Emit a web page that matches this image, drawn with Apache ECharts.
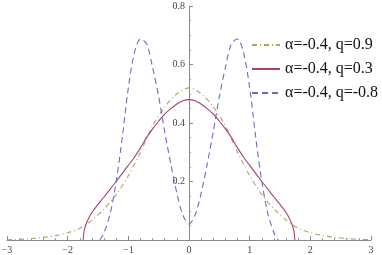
<!DOCTYPE html>
<html>
<head>
<meta charset="utf-8">
<script src="https://cdn.jsdelivr.net/npm/echarts@6/dist/echarts.min.js"></script>
<style>
html,body{margin:0;padding:0;background:#fff;}
#c{width:382px;height:255px;}
</style>
</head>
<body>
<div id="c"></div>
<script>
// Series names
const seriesNames = ['α=-0.4, q=0.9', 'α=-0.4, q=0.3', 'α=-0.4, q=-0.8'];

// q = 0.9 (dot-dashed, olive)
const olive_x = [-3.0,-2.8,-2.6,-2.4,-2.2,-2.0,-1.8,-1.6,-1.4,-1.2,-1.0,-0.8,-0.6,-0.4,-0.2,0,0.2,0.4,0.6,0.8,1.0,1.2,1.4,1.6,1.8,2.0,2.2,2.4,2.6,2.8,3.0];
const olive_y = [0.001,0.002,0.005,0.009,0.015,0.025,0.04,0.068,0.106,0.155,0.22,0.30,0.39,0.455,0.50,0.52,0.50,0.455,0.39,0.30,0.22,0.155,0.106,0.068,0.04,0.025,0.015,0.009,0.005,0.002,0.001];

// q = 0.3 (solid, crimson)
const crim_x = [-1.745,-1.73,-1.7,-1.65,-1.6,-1.5,-1.4,-1.3,-1.2,-1.1,-1.0,-0.9,-0.8,-0.7,-0.6,-0.5,-0.4,-0.3,-0.2,-0.1,0,0.1,0.2,0.3,0.4,0.5,0.6,0.7,0.8,0.9,1.0,1.1,1.2,1.3,1.4,1.5,1.6,1.65,1.7,1.73,1.745];
const crim_y = [0,0.03,0.052,0.076,0.094,0.122,0.147,0.174,0.2,0.228,0.255,0.283,0.315,0.35,0.38,0.406,0.43,0.449,0.465,0.476,0.48,0.476,0.465,0.449,0.43,0.406,0.38,0.35,0.315,0.283,0.255,0.228,0.2,0.174,0.147,0.122,0.094,0.076,0.052,0.03,0];

// q = -0.8 (dashed, blue)
const blue_x = [-1.47,-1.4,-1.3,-1.2,-1.1,-1.0,-0.9,-0.8,-0.7,-0.6,-0.5,-0.4,-0.3,-0.2,-0.1,0,0.1,0.2,0.3,0.4,0.5,0.6,0.7,0.8,0.9,1.0,1.1,1.2,1.3,1.4,1.47];
const blue_y = [0,0.025,0.09,0.20,0.35,0.52,0.64,0.687,0.672,0.59,0.49,0.37,0.26,0.16,0.085,0.055,0.085,0.16,0.26,0.37,0.49,0.59,0.672,0.687,0.64,0.52,0.35,0.20,0.09,0.025,0];

// Axis ticks
const xTicks = [-3,-2,-1,0,1,2,3];
const yTicks = [0.2,0.4,0.6,0.8];

function pairs(xs, ys){ return xs.map((x,i)=>[x, ys[i]]); }

const serif = "'Liberation Serif', 'DejaVu Serif', serif";
const W = 382, H = 255, GL = 7, GR = 11;
const chart = echarts.init(document.getElementById('c'), null, {renderer:'canvas'});
const axisFont = {fontFamily:serif, fontSize:10, color:'#444'};
chart.setOption({
  animation:false,
  backgroundColor:'#fff',
  grid:{left:GL, right:GR, top:6, bottom:15, containLabel:false, outerBoundsMode:'none'},
  legend:{
    show:true,
    orient:'vertical', left:246, top:32, itemWidth:28, itemHeight:16, itemGap:8,
    data: seriesNames,
    itemStyle:{opacity:0},
    textStyle:{fontFamily:serif, fontSize:16, color:'#111'}
  },
  xAxis:{
    type:'value', min:-3, max:3, interval:1,
    axisLine:{onZero:true, lineStyle:{color:'#888', width:1}},
    axisTick:{inside:true, length:4, lineStyle:{color:'#888'}},
    minorTick:{show:true, splitNumber:5, length:2, lineStyle:{color:'#999'}},
    splitLine:{show:false},
    axisLabel:Object.assign({margin:5, formatter:v => xTicks.includes(v) ? String(v).replace('-', '\u2212') : ''}, axisFont)
  },
  yAxis:{
    type:'value', min:0, max:0.8, interval:0.2, position:'left',
    offset: -((W - GL - GR) / 2),
    axisLine:{onZero:false, lineStyle:{color:'#888', width:1}},
    axisTick:{inside:true, length:4, lineStyle:{color:'#888'}},
    minorTick:{show:true, splitNumber:4, length:2, lineStyle:{color:'#999'}},
    splitLine:{show:false},
    axisLabel:Object.assign({margin:4, formatter:v => yTicks.some(t=>Math.abs(t-v)<1e-9) ? v.toFixed(1) : ''}, axisFont)
  },
  series:[
    {name:seriesNames[0], type:'line', data:pairs(olive_x, olive_y), symbol:'none', smooth:0.3,
     lineStyle:{color:'#b3a160', width:1.1, type:[5,3,1,3]}, itemStyle:{color:'#b3a160'}},
    {name:seriesNames[1], type:'line', data:pairs(crim_x, crim_y), symbol:'none', smooth:0.3,
     lineStyle:{color:'#a8406f', width:1.1, type:'solid'}, itemStyle:{color:'#a8406f'}},
    {name:seriesNames[2], type:'line', data:pairs(blue_x, blue_y), symbol:'none', smooth:0.3,
     lineStyle:{color:'#6a6acb', width:1.1, type:[6,4]}, itemStyle:{color:'#6a6acb'}}
  ]
});
</script>
</body>
</html>
